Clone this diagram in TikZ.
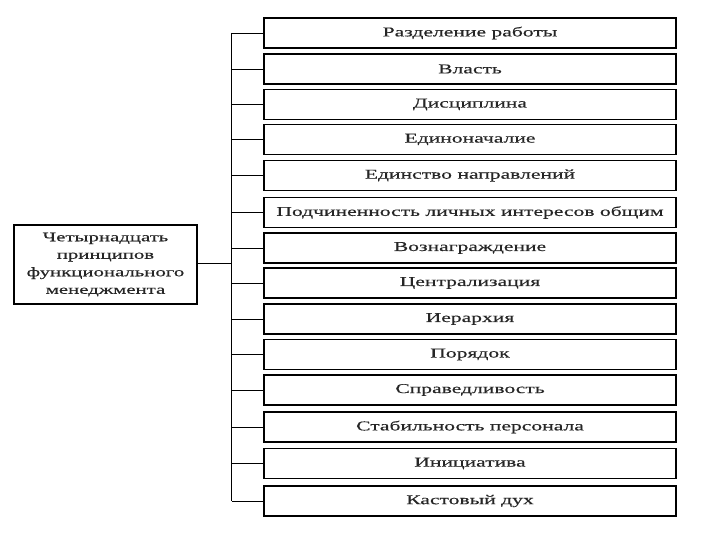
\documentclass[tikz,border=0pt]{standalone}
\usepackage{fontspec}
\setmainfont{Liberation Serif}[FakeStretch=1.6,FakeBold=0.4]
\begin{document}
\begin{tikzpicture}[x=1pt,y=-1pt,
  item/.style={draw=black,line width=1.7pt,minimum width=412pt,minimum height=30pt,inner sep=0pt,font=\fontsize{13.5}{15}\selectfont,text=black!85},
  root/.style={draw=black,line width=1.2pt,minimum width=183pt,minimum height=79pt,inner sep=0pt,align=center,font=\fontsize{13}{17.5}\selectfont,text=black!85},
  link/.style={draw=black,line width=0.9pt}]
\useasboundingbox (0,0) rectangle (720,540);
\node[root] (r) at (105.5,264.5) {Четырнадцать\\принципов\\функционального\\менеджмента};
\node[item] (b1) at (470,33) {Разделение работы};
\node[item] (b2) at (470,69) {Власть};
\node[item] (b3) at (470,104.5) {Дисциплина};
\node[item] (b4) at (470,139.5) {Единоначалие};
\node[item] (b5) at (470,175.5) {Единство направлений};
\node[item] (b6) at (470,212.5) {Подчиненность личных интересов общим};
\node[item] (b7) at (470,248) {Вознаграждение};
\node[item] (b8) at (470,283) {Централизация};
\node[item] (b9) at (470,319) {Иерархия};
\node[item] (b10) at (470,354.5) {Порядок};
\node[item] (b11) at (470,390) {Справедливость};
\node[item] (b12) at (470,427) {Стабильность персонала};
\node[item] (b13) at (470,463.5) {Инициатива};
\node[item] (b14) at (470,501) {Кастовый дух};
\coordinate (top) at (231.5,33);
\coordinate (bot) at (231.5,501);
\draw[link] (top) -- (bot);
\draw[link] (r.east |- 0,263) -- (231.5,263);
\foreach \i in {1,...,14} {
  \draw[link] (231.5,0 |- b\i.west) -- (b\i.west);
}
\end{tikzpicture}
\end{document}
